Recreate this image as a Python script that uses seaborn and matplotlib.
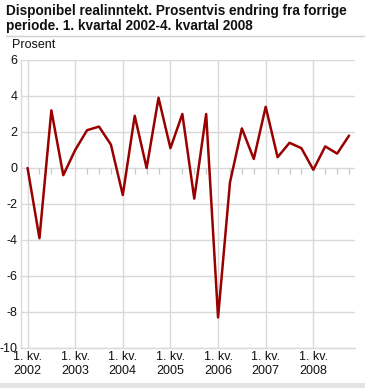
import numpy as np
import pandas as pd
import matplotlib
matplotlib.use("Agg")
import matplotlib.pyplot as plt
import seaborn as sns

# Kvartalsvis endring i disponibel realinntekt, 2002K1-2008K4
years = [2002, 2003, 2004, 2005, 2006, 2007, 2008]
quarters = [1, 2, 3, 4]
values = [0.0, -3.9, 3.2, -0.4,
          1.0, 2.1, 2.3, 1.3,
          -1.5, 2.9, 0.0, 3.9,
          1.1, 3.0, -1.7, 3.0,
          -8.3, -0.8, 2.2, 0.5,
          3.4, 0.6, 1.4, 1.1,
          -0.1, 1.2, 0.8, 1.8]
year_labels = [f"1. kv.\n{y}" for y in years]
y_ticks = [-10, -8, -6, -4, -2, 0, 2, 4, 6]

df = pd.DataFrame({
    "year": np.repeat(years, len(quarters)),
    "quarter": quarters * len(years),
    "value": values,
})
df["idx"] = np.arange(len(df))

sns.set_theme(style="white")
plt.rcParams["font.family"] = ["Liberation Sans", "DejaVu Sans"]

grid_col = "#d9d9d9"
fig = plt.figure(figsize=(3.65, 3.88), dpi=100)
ax = fig.add_axes([21 / 365, 1 - 348 / 388, 334 / 365, 288 / 388])

# grid
year_pos = df.loc[df["quarter"] == 1, "idx"].values
for y in y_ticks:
    ax.axhline(y, color=grid_col, lw=1.0, zorder=0)
for x in year_pos:
    ax.axvline(x, color=grid_col, lw=1.0, zorder=0)
# small quarter ticks on the zero line
minor_pos = df.loc[df["quarter"] != 1, "idx"].values
ax.vlines(minor_pos, -0.33, 0, color="#c8c8c8", lw=0.9, zorder=1)

sns.lineplot(data=df, x="idx", y="value", color="#990000", lw=1.8, ax=ax, zorder=3)

ax.set_xlim(-0.55, 27.5)
ax.set_ylim(-10, 6)
ax.set_xticks(year_pos)
ax.set_xticklabels(year_labels, fontsize=9, color="#111111")
ax.set_yticks(y_ticks)
ax.set_yticklabels([str(v) for v in y_ticks], fontsize=9, color="#111111")
ax.tick_params(axis="both", length=0, pad=2.5)
ax.set_xlabel("")
ax.set_ylabel("")
for s in ["top", "right"]:
    ax.spines[s].set_visible(False)
for s in ["left", "bottom"]:
    ax.spines[s].set_color(grid_col)
    ax.spines[s].set_linewidth(1.0)

fig.text(6 / 365, 1 - 4 / 388,
         "Disponibel realinntekt. Prosentvis endring fra forrige\nperiode. 1. kvartal 2002-4. kvartal 2008",
         ha="left", va="top", fontsize=9.8, fontweight="bold", linespacing=1.1, color="#111111")
fig.add_artist(plt.Line2D([6 / 365, 1], [1 - 36 / 388] * 2, color="#d0d0d0", lw=1.0))
fig.text(12 / 365, 1 - 51 / 388, "Prosent", ha="left", va="bottom", fontsize=9, color="#111111")
fig.add_artist(plt.Rectangle((0, 0), 1, 5 / 388, transform=fig.transFigure,
                             color="#e4e4e4", lw=0))

fig.savefig("out.png", dpi=100)
